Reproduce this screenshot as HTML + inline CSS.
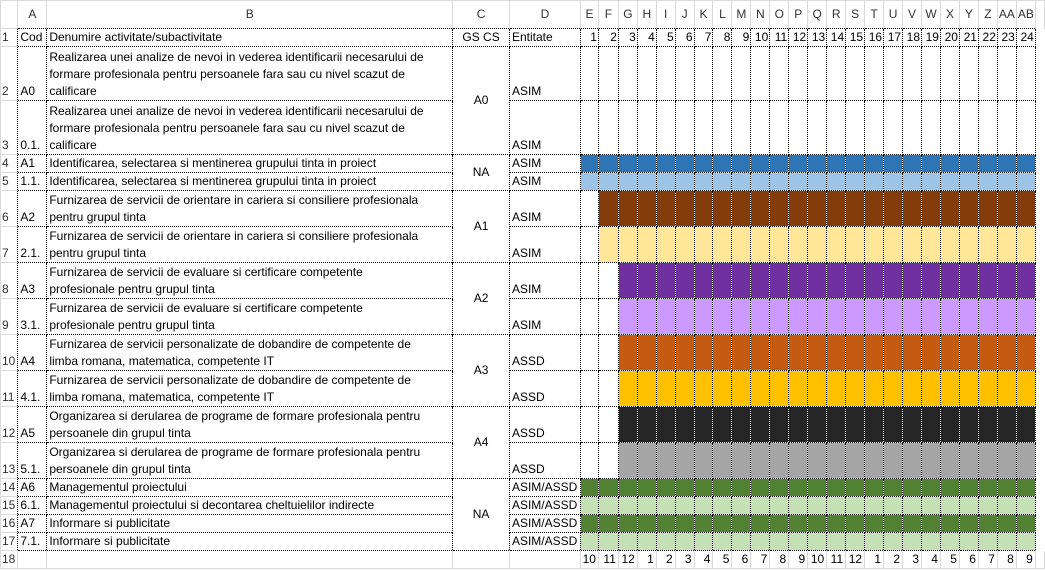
<!DOCTYPE html>
<html><head><meta charset="utf-8"><style>
body{margin:0;background:#fff;width:1045px;height:570px;overflow:hidden}
table{border-collapse:collapse;table-layout:fixed;font-family:"Liberation Sans",Arial,sans-serif;font-size:12px;color:#000;position:absolute;left:0;top:0}
td{border:1px dotted #000;padding:0 2px;white-space:nowrap;overflow:hidden;vertical-align:bottom;line-height:17px;box-sizing:border-box}
tr{height:18px}
td.n{border:1px solid #dadada;border-right:none;color:#333;padding:0 0 0 1px}
tr.h td{border:1px solid #dadada;border-bottom:none;text-align:center;vertical-align:middle;color:#333;padding:0}
tr.h td.n{border-right:1px solid #dadada}
tr.l td{border:1px solid #dadada;border-top:none;text-align:right;padding:0 2px 0 0}
tr.l td.n{text-align:left;padding-left:1px}
td.c{text-align:center;vertical-align:middle}
td.r{text-align:right;padding:0 1px 0 0}
td.m{padding:0}
.b1 td.m{background:#2e75b6}.b2 td.m{background:#9dc3e6}
.b3 td.m{background:#843c0c}.b4 td.m{background:#ffe699}
.b5 td.m{background:#7030a0}.b6 td.m{background:#cc99ff}
.b7 td.m{background:#c55a11}.b8 td.m{background:#ffc000}
.b9 td.m{background:#262626}.b10 td.m{background:#a6a6a6}
.g1 td.m{background:#548235}.g2 td.m{background:#c5e0b4}
td.m.w{background:#fff!important}
</style></head><body>
<table>
<colgroup><col style="width:17px"><col style="width:29px"><col style="width:406px"><col style="width:57px"><col style="width:71px">
<col style="width:18px"><col style="width:20px"><col style="width:19px"><col style="width:19px"><col style="width:19px"><col style="width:19px"><col style="width:19px"><col style="width:19px"><col style="width:19px"><col style="width:19px"><col style="width:19px"><col style="width:19px"><col style="width:19px"><col style="width:19px"><col style="width:19px"><col style="width:19px"><col style="width:19px"><col style="width:19px"><col style="width:19px"><col style="width:19px"><col style="width:19px"><col style="width:19px"><col style="width:19px"><col style="width:19px"><col style="width:9px"></colgroup>
<tr class="h" style="height:28px"><td class="n"></td><td>A</td><td>B</td><td>C</td><td>D</td><td>E</td><td>F</td><td>G</td><td>H</td><td>I</td><td>J</td><td>K</td><td>L</td><td>M</td><td>N</td><td>O</td><td>P</td><td>Q</td><td>R</td><td>S</td><td>T</td><td>U</td><td>V</td><td>W</td><td>X</td><td>Y</td><td>Z</td><td>AA</td><td>AB</td><td></td></tr>
<tr><td class="n">1</td><td>Cod</td><td>Denumire activitate/subactivitate</td><td class="c">GS CS</td><td>Entitate</td><td class="r">1</td><td class="r">2</td><td class="r">3</td><td class="r">4</td><td class="r">5</td><td class="r">6</td><td class="r">7</td><td class="r">8</td><td class="r">9</td><td class="r">10</td><td class="r">11</td><td class="r">12</td><td class="r">13</td><td class="r">14</td><td class="r">15</td><td class="r">16</td><td class="r">17</td><td class="r">18</td><td class="r">19</td><td class="r">20</td><td class="r">21</td><td class="r">22</td><td class="r">23</td><td class="r">24</td><td style="border:none"></td></tr>
<tr style="height:54px"><td class="n">2</td><td>A0</td><td>Realizarea unei analize de nevoi in vederea identificarii necesarului de<br>formare profesionala pentru persoanele fara sau cu nivel scazut de<br>calificare</td><td class="c" rowspan="2">A0</td><td>ASIM</td><td></td><td></td><td></td><td></td><td></td><td></td><td></td><td></td><td></td><td></td><td></td><td></td><td></td><td></td><td></td><td></td><td></td><td></td><td></td><td></td><td></td><td></td><td></td><td></td><td style="border:none"></td></tr>
<tr style="height:54px"><td class="n">3</td><td>0.1.</td><td>Realizarea unei analize de nevoi in vederea identificarii necesarului de<br>formare profesionala pentru persoanele fara sau cu nivel scazut de<br>calificare</td><td>ASIM</td><td></td><td></td><td></td><td></td><td></td><td></td><td></td><td></td><td></td><td></td><td></td><td></td><td></td><td></td><td></td><td></td><td></td><td></td><td></td><td></td><td></td><td></td><td></td><td></td><td style="border:none"></td></tr>
<tr class="b1"><td class="n">4</td><td>A1</td><td>Identificarea, selectarea si mentinerea grupului tinta in proiect</td><td class="c" rowspan="2">NA</td><td>ASIM</td><td class="m"></td><td class="m"></td><td class="m"></td><td class="m"></td><td class="m"></td><td class="m"></td><td class="m"></td><td class="m"></td><td class="m"></td><td class="m"></td><td class="m"></td><td class="m"></td><td class="m"></td><td class="m"></td><td class="m"></td><td class="m"></td><td class="m"></td><td class="m"></td><td class="m"></td><td class="m"></td><td class="m"></td><td class="m"></td><td class="m"></td><td class="m"></td><td style="border:none"></td></tr>
<tr class="b2"><td class="n">5</td><td>1.1.</td><td>Identificarea, selectarea si mentinerea grupului tinta in proiect</td><td>ASIM</td><td class="m"></td><td class="m"></td><td class="m"></td><td class="m"></td><td class="m"></td><td class="m"></td><td class="m"></td><td class="m"></td><td class="m"></td><td class="m"></td><td class="m"></td><td class="m"></td><td class="m"></td><td class="m"></td><td class="m"></td><td class="m"></td><td class="m"></td><td class="m"></td><td class="m"></td><td class="m"></td><td class="m"></td><td class="m"></td><td class="m"></td><td class="m"></td><td style="border:none"></td></tr>
<tr class="b3" style="height:36px"><td class="n">6</td><td>A2</td><td>Furnizarea de servicii de orientare in cariera si consiliere profesionala<br>pentru grupul tinta</td><td class="c" rowspan="2">A1</td><td>ASIM</td><td class="m w"></td><td class="m"></td><td class="m"></td><td class="m"></td><td class="m"></td><td class="m"></td><td class="m"></td><td class="m"></td><td class="m"></td><td class="m"></td><td class="m"></td><td class="m"></td><td class="m"></td><td class="m"></td><td class="m"></td><td class="m"></td><td class="m"></td><td class="m"></td><td class="m"></td><td class="m"></td><td class="m"></td><td class="m"></td><td class="m"></td><td class="m"></td><td style="border:none"></td></tr>
<tr class="b4" style="height:36px"><td class="n">7</td><td>2.1.</td><td>Furnizarea de servicii de orientare in cariera si consiliere profesionala<br>pentru grupul tinta</td><td>ASIM</td><td class="m w"></td><td class="m"></td><td class="m"></td><td class="m"></td><td class="m"></td><td class="m"></td><td class="m"></td><td class="m"></td><td class="m"></td><td class="m"></td><td class="m"></td><td class="m"></td><td class="m"></td><td class="m"></td><td class="m"></td><td class="m"></td><td class="m"></td><td class="m"></td><td class="m"></td><td class="m"></td><td class="m"></td><td class="m"></td><td class="m"></td><td class="m"></td><td style="border:none"></td></tr>
<tr class="b5" style="height:36px"><td class="n">8</td><td>A3</td><td>Furnizarea de servicii de evaluare si certificare competente<br>profesionale pentru grupul tinta</td><td class="c" rowspan="2">A2</td><td>ASIM</td><td class="m w"></td><td class="m w"></td><td class="m"></td><td class="m"></td><td class="m"></td><td class="m"></td><td class="m"></td><td class="m"></td><td class="m"></td><td class="m"></td><td class="m"></td><td class="m"></td><td class="m"></td><td class="m"></td><td class="m"></td><td class="m"></td><td class="m"></td><td class="m"></td><td class="m"></td><td class="m"></td><td class="m"></td><td class="m"></td><td class="m"></td><td class="m"></td><td style="border:none"></td></tr>
<tr class="b6" style="height:36px"><td class="n">9</td><td>3.1.</td><td>Furnizarea de servicii de evaluare si certificare competente<br>profesionale pentru grupul tinta</td><td>ASIM</td><td class="m w"></td><td class="m w"></td><td class="m"></td><td class="m"></td><td class="m"></td><td class="m"></td><td class="m"></td><td class="m"></td><td class="m"></td><td class="m"></td><td class="m"></td><td class="m"></td><td class="m"></td><td class="m"></td><td class="m"></td><td class="m"></td><td class="m"></td><td class="m"></td><td class="m"></td><td class="m"></td><td class="m"></td><td class="m"></td><td class="m"></td><td class="m"></td><td style="border:none"></td></tr>
<tr class="b7" style="height:36px"><td class="n">10</td><td>A4</td><td>Furnizarea de servicii personalizate de dobandire de competente de<br>limba romana, matematica, competente IT</td><td class="c" rowspan="2">A3</td><td>ASSD</td><td class="m w"></td><td class="m w"></td><td class="m"></td><td class="m"></td><td class="m"></td><td class="m"></td><td class="m"></td><td class="m"></td><td class="m"></td><td class="m"></td><td class="m"></td><td class="m"></td><td class="m"></td><td class="m"></td><td class="m"></td><td class="m"></td><td class="m"></td><td class="m"></td><td class="m"></td><td class="m"></td><td class="m"></td><td class="m"></td><td class="m"></td><td class="m"></td><td style="border:none"></td></tr>
<tr class="b8" style="height:36px"><td class="n">11</td><td>4.1.</td><td>Furnizarea de servicii personalizate de dobandire de competente de<br>limba romana, matematica, competente IT</td><td>ASSD</td><td class="m w"></td><td class="m w"></td><td class="m"></td><td class="m"></td><td class="m"></td><td class="m"></td><td class="m"></td><td class="m"></td><td class="m"></td><td class="m"></td><td class="m"></td><td class="m"></td><td class="m"></td><td class="m"></td><td class="m"></td><td class="m"></td><td class="m"></td><td class="m"></td><td class="m"></td><td class="m"></td><td class="m"></td><td class="m"></td><td class="m"></td><td class="m"></td><td style="border:none"></td></tr>
<tr class="b9" style="height:36px"><td class="n">12</td><td>A5</td><td>Organizarea si derularea de programe de formare profesionala pentru<br>persoanele din grupul tinta</td><td class="c" rowspan="2">A4</td><td>ASSD</td><td class="m w"></td><td class="m w"></td><td class="m"></td><td class="m"></td><td class="m"></td><td class="m"></td><td class="m"></td><td class="m"></td><td class="m"></td><td class="m"></td><td class="m"></td><td class="m"></td><td class="m"></td><td class="m"></td><td class="m"></td><td class="m"></td><td class="m"></td><td class="m"></td><td class="m"></td><td class="m"></td><td class="m"></td><td class="m"></td><td class="m"></td><td class="m"></td><td style="border:none"></td></tr>
<tr class="b10" style="height:36px"><td class="n">13</td><td>5.1.</td><td>Organizarea si derularea de programe de formare profesionala pentru<br>persoanele din grupul tinta</td><td>ASSD</td><td class="m w"></td><td class="m w"></td><td class="m"></td><td class="m"></td><td class="m"></td><td class="m"></td><td class="m"></td><td class="m"></td><td class="m"></td><td class="m"></td><td class="m"></td><td class="m"></td><td class="m"></td><td class="m"></td><td class="m"></td><td class="m"></td><td class="m"></td><td class="m"></td><td class="m"></td><td class="m"></td><td class="m"></td><td class="m"></td><td class="m"></td><td class="m"></td><td style="border:none"></td></tr>
<tr class="g1"><td class="n">14</td><td>A6</td><td>Managementul proiectului</td><td class="c" rowspan="4">NA</td><td>ASIM/ASSD</td><td class="m"></td><td class="m"></td><td class="m"></td><td class="m"></td><td class="m"></td><td class="m"></td><td class="m"></td><td class="m"></td><td class="m"></td><td class="m"></td><td class="m"></td><td class="m"></td><td class="m"></td><td class="m"></td><td class="m"></td><td class="m"></td><td class="m"></td><td class="m"></td><td class="m"></td><td class="m"></td><td class="m"></td><td class="m"></td><td class="m"></td><td class="m"></td><td style="border:none"></td></tr>
<tr class="g2"><td class="n">15</td><td>6.1.</td><td>Managementul proiectului si decontarea cheltuielilor indirecte</td><td>ASIM/ASSD</td><td class="m"></td><td class="m"></td><td class="m"></td><td class="m"></td><td class="m"></td><td class="m"></td><td class="m"></td><td class="m"></td><td class="m"></td><td class="m"></td><td class="m"></td><td class="m"></td><td class="m"></td><td class="m"></td><td class="m"></td><td class="m"></td><td class="m"></td><td class="m"></td><td class="m"></td><td class="m"></td><td class="m"></td><td class="m"></td><td class="m"></td><td class="m"></td><td style="border:none"></td></tr>
<tr class="g1"><td class="n">16</td><td>A7</td><td>Informare si publicitate</td><td>ASIM/ASSD</td><td class="m"></td><td class="m"></td><td class="m"></td><td class="m"></td><td class="m"></td><td class="m"></td><td class="m"></td><td class="m"></td><td class="m"></td><td class="m"></td><td class="m"></td><td class="m"></td><td class="m"></td><td class="m"></td><td class="m"></td><td class="m"></td><td class="m"></td><td class="m"></td><td class="m"></td><td class="m"></td><td class="m"></td><td class="m"></td><td class="m"></td><td class="m"></td><td style="border:none"></td></tr>
<tr class="g2"><td class="n">17</td><td>7.1.</td><td>Informare si publicitate</td><td>ASIM/ASSD</td><td class="m"></td><td class="m"></td><td class="m"></td><td class="m"></td><td class="m"></td><td class="m"></td><td class="m"></td><td class="m"></td><td class="m"></td><td class="m"></td><td class="m"></td><td class="m"></td><td class="m"></td><td class="m"></td><td class="m"></td><td class="m"></td><td class="m"></td><td class="m"></td><td class="m"></td><td class="m"></td><td class="m"></td><td class="m"></td><td class="m"></td><td class="m"></td><td style="border:none"></td></tr>
<tr class="l"><td class="n">18</td><td></td><td></td><td></td><td></td><td>10</td><td>11</td><td>12</td><td>1</td><td>2</td><td>3</td><td>4</td><td>5</td><td>6</td><td>7</td><td>8</td><td>9</td><td>10</td><td>11</td><td>12</td><td>1</td><td>2</td><td>3</td><td>4</td><td>5</td><td>6</td><td>7</td><td>8</td><td>9</td><td></td></tr>
</table>
</body></html>
